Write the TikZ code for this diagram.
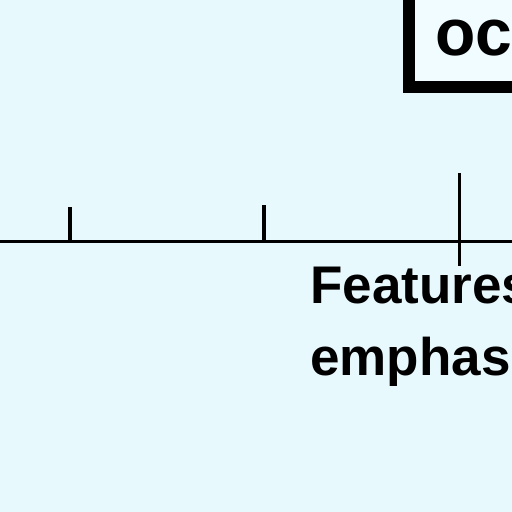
\documentclass[tikz,border=0pt]{standalone}
\usepackage{fontspec}
\setmainfont{Liberation Sans}
\definecolor{bgc}{HTML}{E8F9FD}
\definecolor{boxin}{HTML}{F0FCFF}
\tikzset{
  axisline/.style={line width=3pt, black},
  tickline/.style={line width=3.5pt, black},
  bigtext/.style={inner sep=0pt, font=\bfseries\fontsize{53}{72}\selectfont, align=left},
  boxtext/.style={inner sep=0pt, font=\bfseries\fontsize{66}{78}\selectfont},
  framebox/.style={line width=12pt, draw=black, fill=boxin}
}
\begin{document}
\begin{tikzpicture}[x=1pt,y=-1pt]
\useasboundingbox (0,0) rectangle (512,512);
\clip (0,0) rectangle (512,512);
\fill[bgc] (0,0) rectangle (512,512);
% frame at top right
\draw[framebox] (409,-30) rectangle (560,87);
\node[boxtext, anchor=base west] (oc) at (435,55) {oc};
% axis
\coordinate (L) at (-5,241);
\coordinate (R) at (520,241);
\draw[axisline] (L) -- (R);
% ticks
\coordinate (t1a) at (70,207);
\coordinate (t1b) at (70,241);
\coordinate (t2a) at (264,205);
\coordinate (t2b) at (264,241);
\coordinate (t3a) at (459.5,173);
\coordinate (t3b) at (459.5,266);
\draw[tickline] (t1a) -- (t1b);
\draw[tickline] (t2a) -- (t2b);
\draw[tickline] (t3a) -- (t3b);
% label
\node[bigtext, anchor=base west] (feat) at (310,303) {Features};
\node[bigtext, anchor=base west] (emph) at (310,375) {emphas};
\end{tikzpicture}
\end{document}
